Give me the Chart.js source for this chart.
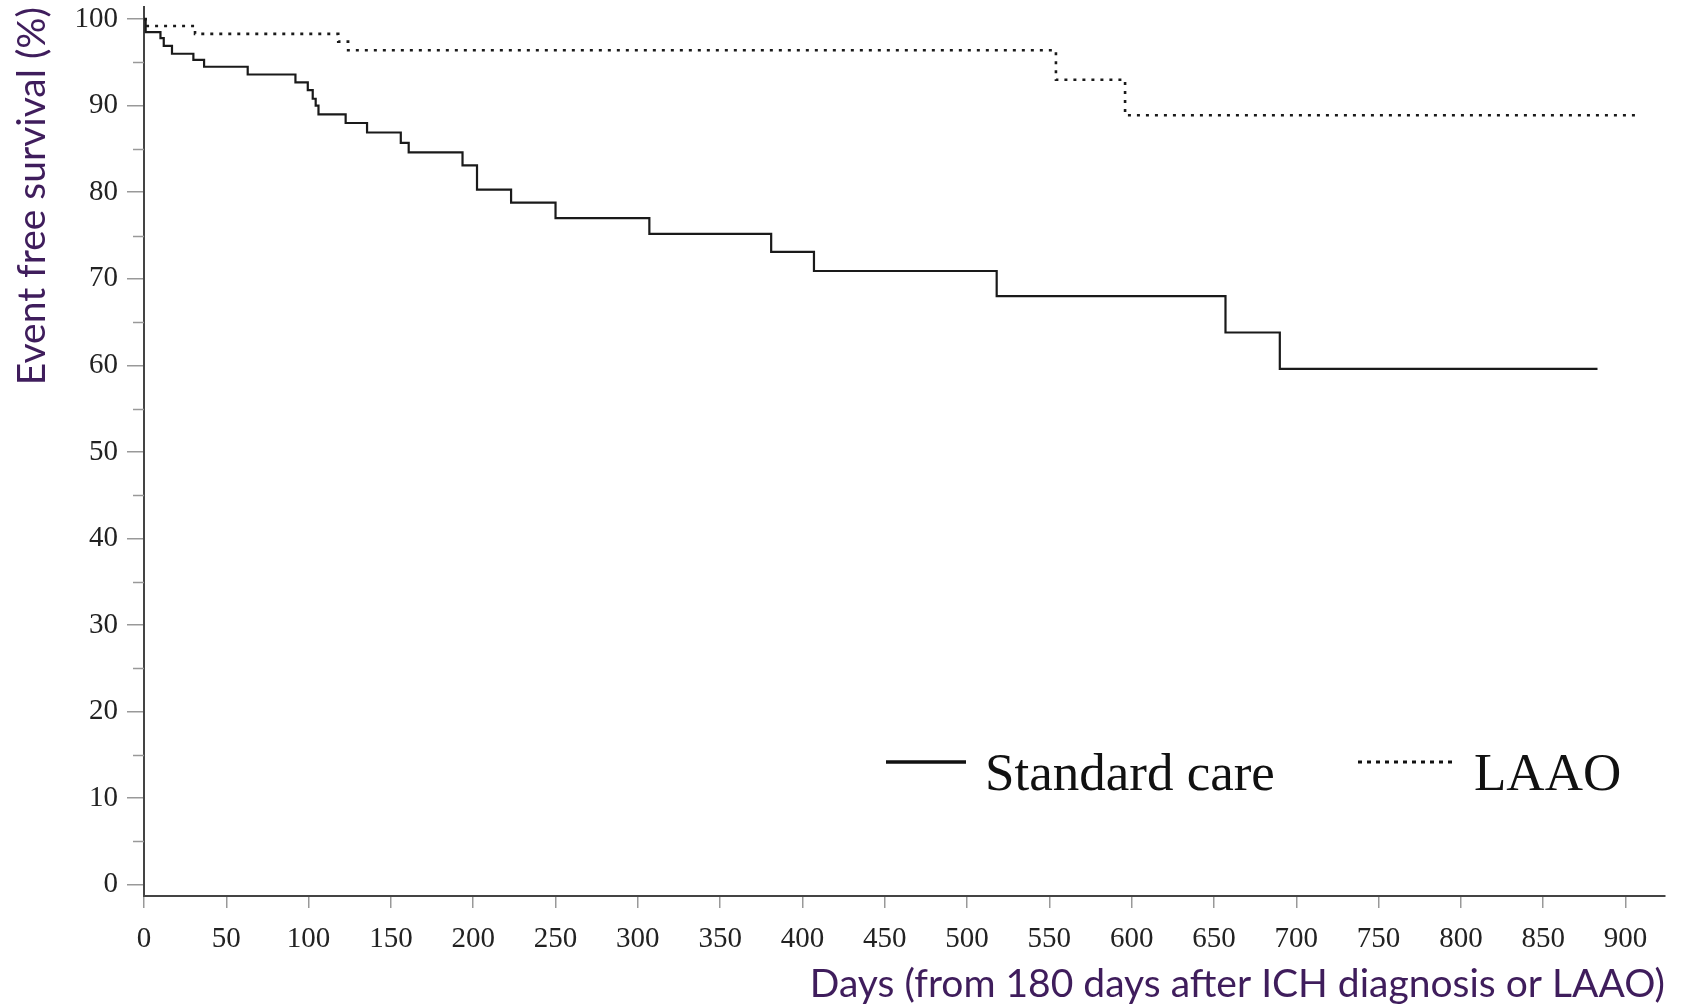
<!DOCTYPE html>
<html lang="en">
<head>
<meta charset="UTF-8">
<title>Event free survival</title>
<script src="https://cdn.jsdelivr.net/npm/chart.js@4"></script>
<style>
  html, body { margin: 0; padding: 0; background: #fff; }
  canvas { display: block; }
</style>
</head>
<body>
<canvas id="kmChart" width="1684" height="1008"></canvas>
<script>
// Kaplan-Meier steps: day of the drop, % event free after it
const standardDays = [0, 1, 10, 12, 17, 30, 36.5, 63, 92, 99.5, 102.5, 104.3, 106, 122.5, 135.5, 156, 160.8, 193.5, 202.3, 223, 250, 307, 381, 407, 518, 657, 690, 883];
const standardSurvival = [100, 98.5, 97.8, 96.9, 96.0, 95.3, 94.5, 93.6, 92.7, 91.8, 90.8, 90.0, 89.0, 88.0, 86.9, 85.7, 84.6, 83.1, 80.3, 78.8, 77.0, 75.2, 73.1, 70.9, 68.0, 63.8, 59.6, 59.6];
const laaoDays = [0, 1, 31, 118, 124, 554, 596, 909];
const laaoSurvival = [100, 99.2, 98.3, 97.4, 96.4, 93.0, 88.9, 88.9];

const seriesLabels = ["Standard care", "LAAO"];
const xTicks = [0, 50, 100, 150, 200, 250, 300, 350, 400, 450, 500, 550, 600, 650, 700, 750, 800, 850, 900];
const yTicks = [0, 10, 20, 30, 40, 50, 60, 70, 80, 90, 100];
const yMinorTicks = [5, 15, 25, 35, 45, 55, 65, 75, 85, 95];

const purple = "#3f1d5c";
const tickFont = { family: "'Liberation Serif', 'DejaVu Serif', serif", size: 29 };
const titleFont = { family: "Lato, 'Open Sans', sans-serif", size: 39, lineHeight: 1.2 };

function toPoints(days, values) {
  return days.map((d, i) => ({ x: d, y: values[i] }));
}

// short tick marks at the 5s on the y axis, no labels
const minorTicks = {
  id: "minorTicks",
  afterDraw(chart) {
    const { ctx, scales: { y }, chartArea } = chart;
    ctx.save();
    ctx.strokeStyle = "#999";
    ctx.lineWidth = 1.5;
    yMinorTicks.forEach(v => {
      const py = Math.round(y.getPixelForValue(v)) + 0.5;
      ctx.beginPath();
      ctx.moveTo(chartArea.left - 11, py);
      ctx.lineTo(chartArea.left, py);
      ctx.stroke();
    });
    ctx.restore();
  }
};

// legend sits inside the plot, bottom right
const insideLegend = {
  id: "insideLegend",
  afterDatasetsDraw(chart) {
    const { ctx, chartArea } = chart;
    const lineY = chartArea.bottom - 134;
    const textY = chartArea.bottom - 106;
    const items = [
      { x: chartArea.right - 779, len: 80, dash: [], width: 3.5, label: seriesLabels[0] },
      { x: chartArea.right - 307, len: 97, dash: [4, 5], width: 3, label: seriesLabels[1] }
    ];
    ctx.save();
    ctx.font = "53px 'Liberation Serif', serif";
    ctx.fillStyle = "#111";
    ctx.strokeStyle = "#111";
    ctx.textBaseline = "alphabetic";
    items.forEach(it => {
      ctx.setLineDash(it.dash);
      ctx.lineWidth = it.width;
      ctx.beginPath();
      ctx.moveTo(it.x, lineY);
      ctx.lineTo(it.x + it.len, lineY);
      ctx.stroke();
      ctx.fillText(it.label, it.x + it.len + 19, textY);
    });
    ctx.restore();
  }
};

new Chart(document.getElementById("kmChart"), {
  type: "line",
  data: {
    datasets: [
      {
        label: seriesLabels[0],
        data: toPoints(standardDays, standardSurvival),
        stepped: true,
        borderColor: "#1a1a1a",
        borderWidth: 2.2,
        pointRadius: 0,
        fill: false
      },
      {
        label: seriesLabels[1],
        data: toPoints(laaoDays, laaoSurvival),
        stepped: true,
        borderColor: "#1a1a1a",
        borderWidth: 2.6,
        borderDash: [3, 6],
        pointRadius: 0,
        fill: false
      }
    ]
  },
  options: {
    responsive: false,
    animation: false,
    layout: { padding: { top: 7, right: 19, left: 0, bottom: 0 } },
    plugins: {
      legend: { display: false },
      tooltip: { enabled: false }
    },
    scales: {
      x: {
        type: "linear",
        min: 0,
        max: 924,
        afterBuildTicks: s => { s.ticks = xTicks.map(v => ({ value: v })); },
        afterFit: s => { s.height = 112; s.paddingLeft = 0; s.paddingRight = 0; },
        grid: { drawOnChartArea: false, drawTicks: true, tickLength: 12, color: "#999", lineWidth: 1.5 },
        border: { display: true, color: "#444", width: 2 },
        ticks: { color: "#222", font: tickFont, padding: 14, maxRotation: 0 },
        title: {
          display: true,
          text: "Days (from 180 days after ICH diagnosis or LAAO)",
          align: "end",
          color: purple,
          font: titleFont,
          padding: { top: 0, bottom: 0 }
        }
      },
      y: {
        type: "linear",
        min: -1.3,
        max: 101.4,
        afterBuildTicks: s => { s.ticks = yTicks.map(v => ({ value: v })); },
        afterFit: s => { s.width = 144; s.paddingTop = 0; s.paddingBottom = 0; },
        grid: { drawOnChartArea: false, drawTicks: true, tickLength: 17, color: "#999", lineWidth: 1.5 },
        border: { display: true, color: "#444", width: 2 },
        ticks: { color: "#222", font: tickFont, padding: 9 },
        title: {
          display: true,
          text: "Event free survival (%)",
          align: "end",
          color: purple,
          font: titleFont,
          padding: { top: 9, bottom: 0 }
        }
      }
    }
  },
  plugins: [minorTicks, insideLegend]
});
</script>
</body>
</html>
